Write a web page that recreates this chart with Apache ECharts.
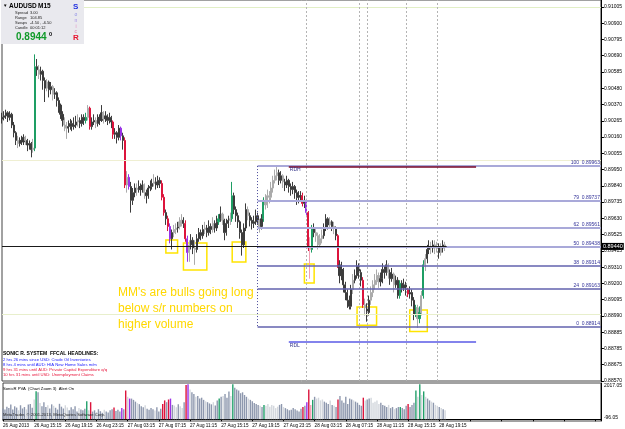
<!DOCTYPE html>
<html><head><meta charset="utf-8">
<script src="https://cdn.jsdelivr.net/npm/echarts@6/dist/echarts.min.js"></script>
<style>html,body{margin:0;padding:0;background:#fff}#c{width:625px;height:429px}</style>
</head><body><div id="c"></div>
<script>
// ---- data ----
const timeLabels = ["26 Aug 2013","26 Aug 15:15","26 Aug 19:15","26 Aug 23:15","27 Aug 03:15","27 Aug 07:15","27 Aug 11:15","27 Aug 15:15","27 Aug 19:15","27 Aug 23:15","28 Aug 03:15","28 Aug 07:15","28 Aug 11:15","28 Aug 15:15","28 Aug 19:15"];
const priceLabels = ["0.88570","0.88675","0.88785","0.88885","0.88990","0.89095","0.89200","0.89310","0.89415","0.89525","0.89630","0.89735","0.89840","0.89950","0.90055","0.90160","0.90265","0.90370","0.90480","0.90585","0.90690","0.90795","0.90900","0.91005"];
const volLabels = {max: "2017.05", min: "-96.05"};
const firstOpen = 0.9027;
const closes = [
.9028,.9029,.9031,.9028,.9030,.9023,.9018,.9013,.9011,.9013,
.9012,.9015,.9013,.9010,.9011,.9007,.9008,.9061,.9059,.9056,
.9058,.9052,.9047,.9051,.9046,.9048,.9043,.9044,.9039,.9036,
.9030,.9026,.9023,.9021,.9022,.9024,.9022,.9023,.9025,.9026,
.9024,.9028,.9026,.9028,.9034,.9022,.9025,.9026,.9024,.9028,
.9026,.9031,.9027,.9029,.9026,.9028,.9025,.9017,.9018,.9015,
.9021,.9016,.9013,.8984,.8989,.8983,.8974,.8979,.8982,.8981,
.8983,.8981,.8984,.8979,.8977,.8982,.8983,.8985,.8986,.8984,
.8987,.8985,.8976,.8966,.8962,.8957,.8949,.8953,.8955,.8956,
.8957,.8960,.8961,.8959,.8949,.8940,.8945,.8948,.8943,.8942,
.8949,.8953,.8951,.8955,.8956,.8953,.8957,.8955,.8959,.8956,
.8960,.8962,.8965,.8961,.8953,.8959,.8961,.8962,.8977,.8968,
.8964,.8960,.8953,.8945,.8956,.8968,.8964,.8961,.8959,.8960,
.8964,.8961,.8957,.8962,.8974,.8971,.8977,.8976,.8982,.8987,
.8990,.8992,.8987,.8990,.8986,.8984,.8987,.8983,.8981,.8983,
.8979,.8976,.8977,.8977,.8972,.8974,.8966,.8943,.8942,.8956,
.8953,.8951,.8945,.8949,.8951,.8956,.8962,.8958,.8960,.8957,
.8956,.8951,.8932,.8925,.8929,.8919,.8914,.8909,.8905,.8916,
.8922,.8925,.8931,.8927,.8922,.8906,.8904,.8901,.8909,.8914,
.8919,.8922,.8925,.8921,.8923,.8929,.8927,.8932,.8927,.8923,
.8926,.8919,.8922,.8912,.8920,.8917,.8919,.8916,.8913,.8914,
.8909,.8900,.8904,.8897,.8901,.8912,.8932,.8936,.8942,.8944,
.8943,.8945,.8943,.8944,.8940,.8943,.8945,.8944];
const highs = [
.9031,.9032,.9033,.9032,.9032,.9031,.9025,.9019,.9016,.9015,
.9016,.9017,.9016,.9014,.9013,.9012,.9014,.9069,.9066,.9062,
.9061,.9059,.9054,.9053,.9052,.9051,.9049,.9047,.9045,.9041,
.9037,.9032,.9028,.9025,.9026,.9027,.9026,.9028,.9029,.9030,
.9028,.9030,.9030,.9031,.9036,.9035,.9028,.9030,.9028,.9030,
.9030,.9036,.9032,.9032,.9030,.9031,.9029,.9026,.9021,.9019,
.9023,.9022,.9018,.9015,.8993,.8991,.8986,.8982,.8985,.8985,
.8987,.8985,.8987,.8985,.8981,.8984,.8987,.8988,.8991,.8989,
.8990,.8989,.8987,.8978,.8968,.8964,.8959,.8955,.8958,.8959,
.8960,.8963,.8965,.8963,.8961,.8951,.8948,.8952,.8950,.8948,
.8952,.8956,.8955,.8958,.8960,.8958,.8961,.8959,.8963,.8961,
.8964,.8965,.8970,.8966,.8962,.8962,.8964,.8966,.8986,.8979,
.8970,.8966,.8961,.8955,.8959,.8972,.8970,.8966,.8963,.8964,
.8968,.8966,.8962,.8965,.8976,.8978,.8981,.8980,.8986,.8990,
.8994,.8996,.8994,.8993,.8991,.8988,.8990,.8988,.8985,.8986,
.8984,.8981,.8980,.8980,.8979,.8977,.8975,.8967,.8950,.8958,
.8959,.8956,.8953,.8952,.8955,.8959,.8965,.8963,.8963,.8961,
.8960,.8957,.8952,.8935,.8934,.8930,.8921,.8916,.8912,.8919,
.8926,.8929,.8935,.8933,.8929,.8924,.8910,.8907,.8912,.8918,
.8922,.8926,.8929,.8927,.8927,.8933,.8931,.8935,.8933,.8929,
.8930,.8927,.8925,.8924,.8922,.8922,.8923,.8921,.8917,.8918,
.8916,.8911,.8906,.8906,.8905,.8915,.8935,.8939,.8945,.8948,
.8947,.8948,.8948,.8947,.8946,.8946,.8948,.8947];
const lows = [
.9024,.9026,.9027,.9025,.9026,.9021,.9015,.9010,.9008,.9009,
.9010,.9010,.9010,.9006,.9007,.9002,.9005,.9006,.9055,.9053,
.9052,.9046,.9038,.9045,.9041,.9043,.9039,.9040,.9035,.9031,
.9027,.9022,.9019,.9014,.9018,.9020,.9019,.9020,.9021,.9022,
.9021,.9022,.9023,.9024,.9026,.9020,.9020,.9023,.9021,.9022,
.9023,.9025,.9024,.9025,.9023,.9024,.9021,.9014,.9014,.9011,
.9013,.9013,.9007,.8982,.8979,.8981,.8966,.8971,.8976,.8977,
.8979,.8977,.8979,.8975,.8972,.8975,.8980,.8981,.8983,.8981,
.8982,.8982,.8974,.8964,.8958,.8954,.8946,.8942,.8950,.8952,
.8953,.8955,.8957,.8956,.8947,.8934,.8934,.8942,.8939,.8932,
.8940,.8947,.8948,.8949,.8952,.8950,.8951,.8952,.8953,.8953,
.8954,.8958,.8960,.8958,.8948,.8951,.8956,.8958,.8960,.8965,
.8960,.8956,.8949,.8938,.8943,.8954,.8961,.8957,.8955,.8956,
.8958,.8958,.8953,.8955,.8960,.8968,.8969,.8972,.8974,.8979,
.8985,.8987,.8984,.8985,.8982,.8980,.8982,.8979,.8977,.8978,
.8975,.8971,.8972,.8973,.8970,.8969,.8963,.8941,.8923,.8940,
.8950,.8947,.8942,.8943,.8946,.8949,.8954,.8955,.8956,.8954,
.8952,.8948,.8930,.8920,.8922,.8914,.8909,.8904,.8903,.8903,
.8913,.8920,.8923,.8923,.8918,.8904,.8899,.8895,.8899,.8906,
.8911,.8916,.8919,.8917,.8918,.8920,.8923,.8925,.8923,.8919,
.8921,.8914,.8917,.8910,.8910,.8914,.8915,.8912,.8911,.8910,
.8905,.8896,.8898,.8891,.8894,.8899,.8910,.8928,.8933,.8939,
.8939,.8940,.8939,.8940,.8936,.8938,.8940,.8941];
const volumes = [
600,550,700,620,820,540,720,650,500,780,600,680,550,820,850,640,
1100,1560,1500,
900,720,950,680,780,600,830,750,640,540,860,700,600,780,650,500,670,560,720,430,630,540,500,590,
1000,500,950,
430,500,400,560,450,360,530,430,370,500,560,
650,460,530,430,620,560,1600,1250,1150,
1150,1080,980,900,840,730,670,780,590,530,630,560,490,670,430,590,
850,1050,950,1100,1150,800,
760,670,830,720,630,950,
1900,1950,1650,
1500,1400,1250,1300,1150,1200,1080,1000,950,880,830,950,760,1050,
1150,
1250,1300,1400,1200,1550,1300,
1950,
1750,1650,1600,1450,1500,1350,1250,1150,1080,1000,900,850,800,750,680,
800,
750,850,700,800,750,620,700,800,850,680,620,560,500,530,620,560,490,430,580,
680,750,950,1650,800,1080,
1250,1150,1200,1050,1100,980,920,850,1050,800,750,680,
1100,
1300,1050,920,1250,850,1150,1100,1050,980,920,800,750,
1200,
1050,1100,1150,1200,920,980,1050,850,920,800,750,680,800,620,680,560,620,680,
680,620,560,750,850,680,800,920,
1600,1250,1950,1350,1550,
1250,1150,1050,980,920,800,750,680,620,560,500];
// candle class per bar: d dark, l light, g green, r red, p purple, k pink
const barClass = "ddddddddldddlddd" + "lg" + "dldddlddldddddlldddddlddd" + "glr" + "ddldddldddd" + "r" + "ddd" + "pdrlp" +
  "dddldddlddddlddd" + "rrdrpd" + "lldlld" + "rpl" + "ddlddddldddldd" + "g" + "dldddl" + "g" + "dddddddldddddld" + "g" +
  "lllllllddlddddddddd" + "rdprkg" + "dlllldddldld" + "r" + "dddddddldddd" + "r" + "lddlllllddddlddldd" + "gdddrddd" + "glglg" + "lddldlldldl";
const srLevels = [0.91011, 0.90758, 0.90497, 0.90243, 0.89996, 0.89742, 0.89495, 0.89241, 0.88986, 0.88746];
const srColors = ['#d6d6f2', '#e2efc6', '#cdeccd', '#efefd2', '#d6d6f2', '#efefd2', '#cdeccd', '#efefd2', '#d6d6f2', '#e8efcc'];
const fibNames = ["100", "79", "62", "50", "38", "24", "0"];
const fibPrices = [0.89963, 0.89737, 0.89561, 0.89438, 0.89314, 0.89163, 0.88914];
const rdh = 0.89960, rdl = 0.88818;
const bidPrice = 0.89440;
const sessionMarks = [156, 183, 187, 207, 223];
const boxes = [[84, 0.89481, 90, 0.89397], [93, 0.89462, 105, 0.89286], [118, 0.89469, 125, 0.89338],
               [155, 0.89325, 160, 0.89202], [182, 0.89045, 192, 0.88927], [209, 0.89026, 218, 0.88887]];

// ---- layout constants ----
const SLOTS = 308, TICK_EVERY = 16;
const yMin = 0.88564, yMax = 0.91044, yStep = 0.0010587;
const volMin = -96.05, volMax = 2017.05;
const FONT = 'Liberation Sans, Arial, sans-serif';
const candleColor = {d:'#3c3c3c', l:'#ababab', g:'#1e9e64', r:'#dc143c', p:'#9932e6', k:'#f4a0b4'};
const volColor = {d:'#8e98ae', l:'#d3d7dd', g:'#22a06a', r:'#dc143c', p:'#9b30e8', k:'#f4a0b4'};

const slots = [];
for (let i = 0; i < SLOTS; i++) slots.push(String(i));

const candleData = closes.map((c, i) => {
  const o = i === 0 ? firstOpen : closes[i - 1];
  const col = candleColor[barClass[i]] || candleColor.d;
  return {value: [o, c, lows[i], highs[i]], itemStyle: {color: col, color0: col, borderColor: col, borderColor0: col, borderWidth: 1}};
});
const volData = volumes.map((v, i) => ({value: v, itemStyle: {color: volColor[barClass[i]] || volColor.d}}));

const last = SLOTS - 1, fibStart = 131, lastBar = closes.length;
const mlData = [];
srLevels.forEach((p, i) => mlData.push({yAxis: p, lineStyle: {color: srColors[i], width: 1, type: 'solid'}, label: {show: false}}));
sessionMarks.forEach(ix => mlData.push({xAxis: ix, lineStyle: {color: '#b4b4b4', width: 1, type: [2, 2]}, label: {show: false}}));
fibPrices.forEach((p, i) => mlData.push([
  {coord: [fibStart, p], lineStyle: {color: i < 4 ? '#a9a9d9' : '#6262ae', width: i < 4 ? 2 : 1.5, type: 'solid'},
   label: {show: true, position: 'insideEndTop', formatter: fibNames[i] + '  ' + p.toFixed(5), color: '#333399', fontSize: 5, fontFamily: FONT, distance: 1}},
  {coord: [last, p]}]));
mlData.push([{coord: [fibStart, fibPrices[0]], lineStyle: {color: '#4a4a9a', width: 1, type: [1, 2]}, label: {show: false}}, {coord: [fibStart, fibPrices[6]]}]);
mlData.push([{coord: [147, rdh], lineStyle: {color: '#7a0a28', width: 1.5, type: 'solid'},
  label: {show: true, position: 'insideStartBottom', formatter: 'RDH', color: '#333388', fontSize: 5, fontFamily: FONT, distance: 1}}, {coord: [243, rdh]}]);
mlData.push([{coord: [147, rdl], lineStyle: {color: '#5a5ae6', width: 1.5, type: 'solid'},
  label: {show: true, position: 'insideStartBottom', formatter: 'RDL', color: '#333388', fontSize: 5, fontFamily: FONT, distance: 1}}, {coord: [243, rdl]}]);
// bid line: dark up to the last bar, then the axis price box at the right edge
mlData.push([{coord: [0, bidPrice], lineStyle: {color: '#1a1a1a', width: 1, type: 'solid'}, label: {show: false}}, {coord: [lastBar, bidPrice]}]);
mlData.push([{coord: [lastBar, bidPrice], lineStyle: {color: '#a9a9d9', width: 2, type: 'solid'},
  label: {show: true, position: 'end', formatter: bidPrice.toFixed(5), backgroundColor: '#000', color: '#fff', fontSize: 5.5,
          fontFamily: FONT, padding: [1, 1, 0, 1], distance: 1}}, {coord: [last, bidPrice]}]);

const maData = boxes.map(b => [{coord: [b[0], b[1]]}, {coord: [b[2], b[3]]}]);

function t(x, y, text, size, color, weight) {
  return {type: 'text', z: 100, style: {x: x, y: y, text: text, fontSize: size, fill: color,
    fontWeight: weight || 'normal', fontFamily: FONT, textVerticalAlign: 'middle'}};
}

const option = {
  animation: false,
  backgroundColor: '#ffffff',
  grid: [
    {left: 2, top: 0, width: 601, height: 381, show: true, borderColor: '#444', borderWidth: 1, backgroundColor: 'transparent'},
    {left: 2, top: 383, width: 601, height: 38, show: true, borderColor: '#444', borderWidth: 1, backgroundColor: 'transparent'}
  ],
  xAxis: [
    {type: 'category', gridIndex: 0, data: slots, boundaryGap: false, axisLine: {show: false}, axisTick: {show: false}, axisLabel: {show: false}, splitLine: {show: false}},
    {type: 'category', gridIndex: 1, data: slots, boundaryGap: false,
     axisLine: {show: true, lineStyle: {color: '#000', width: 1}},
     axisTick: {show: true, interval: (i) => i % TICK_EVERY === 0, length: 2, lineStyle: {color: '#000'}},
     axisLabel: {show: true, interval: (i) => i % TICK_EVERY === 0, align: 'left', margin: 2, fontSize: 4.6, color: '#000', fontFamily: FONT,
       formatter: (v, i) => { const k = i / TICK_EVERY; return (Number.isInteger(k) && timeLabels[k]) ? timeLabels[k] : ''; }},
     splitLine: {show: false}}
  ],
  yAxis: [
    {type: 'value', gridIndex: 0, position: 'right', min: yMin, max: yMax, interval: yStep,
     axisLine: {show: true, lineStyle: {color: '#000'}}, axisTick: {show: true, length: 3, lineStyle: {color: '#000'}},
     axisLabel: {show: true, fontSize: 5, color: '#000', margin: 3, fontFamily: FONT, showMaxLabel: false,
       formatter: (v) => { const k = Math.round((v - yMin) / yStep); return Math.abs(v - (yMin + k * yStep)) < 1e-6 && priceLabels[k] ? priceLabels[k] : ''; }},
     splitLine: {show: false}},
    {type: 'value', gridIndex: 1, position: 'right', min: volMin, max: volMax, interval: volMax - volMin,
     axisLine: {show: true, lineStyle: {color: '#000'}}, axisTick: {show: false},
     axisLabel: {show: true, fontSize: 5, color: '#000', margin: 3, fontFamily: FONT,
       formatter: (v) => v > 1000 ? '{a|' + volLabels.max + '}' : '{b|' + volLabels.min + '}',
       rich: {a: {fontSize: 5, padding: [6, 0, 0, 0], fontFamily: FONT}, b: {fontSize: 5, padding: [0, 0, 6, 0], fontFamily: FONT}}},
     splitLine: {show: false}}
  ],
  series: [
    {type: 'candlestick', xAxisIndex: 0, yAxisIndex: 0, data: candleData, barWidth: 1.6,
     markLine: {silent: true, symbol: ['none', 'none'], animation: false, data: mlData},
     markArea: {silent: true, itemStyle: {color: 'rgba(0,0,0,0)', borderColor: '#ffe400', borderWidth: 1.5}, data: maData}},
    {type: 'bar', xAxisIndex: 1, yAxisIndex: 1, data: volData, barWidth: 1.4}
  ],
  graphic: [
    {type: 'rect', z: 99, shape: {x: 1, y: 0, width: 83, height: 44}, style: {fill: '#e9e9ee'}},
    t(3, 6, '\u25BC', 4.5, '#000'),
    t(9, 6, 'AUDUSD', 6.5, '#000', 'bold'),
    t(38, 6, 'M15', 6.5, '#000', 'bold'),
    t(15, 13, 'Spread', 4, '#222'), t(30, 13, '3.00', 4, '#222'),
    t(15, 18, 'Range', 4, '#222'), t(30, 18, '104.85', 4, '#222'),
    t(15, 23, 'Swaps', 4, '#222'), t(30, 23, '-4.50 , -6.50', 4, '#222'),
    t(15, 28, 'Candle', 4, '#222'), t(30, 28, '00:01:12', 4, '#222'),
    t(16, 37, '0.8944', 10, '#119a2a', 'bold'),
    t(49, 34, '0', 5.5, '#000', 'bold'),
    t(73, 7, 'S', 8, '#1f2fe0', 'bold'),
    t(74.5, 15, 'o', 5, '#8f8fe6'),
    t(74.5, 21, 'n', 5, '#a48fe6'),
    t(75.5, 27, 'i', 5, '#e08fc0'),
    t(74.5, 32, 'c', 5, '#e07aa8'),
    t(73, 38, 'R', 8, '#e8122e', 'bold'),
    t(118, 293, "MM's are bulls going long", 12, '#ffd800'),
    t(118, 309, 'below s/r numbers on', 12, '#ffd800'),
    t(118, 325, 'higher volume', 12, '#ffd800'),
    t(3, 354, 'SONIC R. SYSTEM  FFCAL HEADLINES:', 5, '#000', 'bold'),
    t(3, 359.5, '2 hrs 26 mins since USD: Crude Oil Inventories', 4.2, '#1a1aff'),
    t(3, 364.5, '8 hrs 4 mins until AUD: HIA New Home Sales m/m', 4.2, '#1a1aff'),
    t(3, 369.5, '9 hrs 31 mins until AUD: Private Capital Expenditure q/q', 4.2, '#e8163c'),
    t(3, 374.5, '10 hrs 31 mins until USD: Unemployment Claims', 4.2, '#e8163c'),
    t(3, 389, 'SonicR PVA  (Chart Zoom 3)  Alert On', 4.2, '#000'),
    t(3, 415, 'MetaTrader, \u00A9 2001-2013, MetaQuotes Software Corp.', 4.2, '#222')
  ]
};
const chart = echarts.init(document.getElementById('c'), null, {renderer: 'canvas'});
chart.setOption(option);
</script></body></html>
